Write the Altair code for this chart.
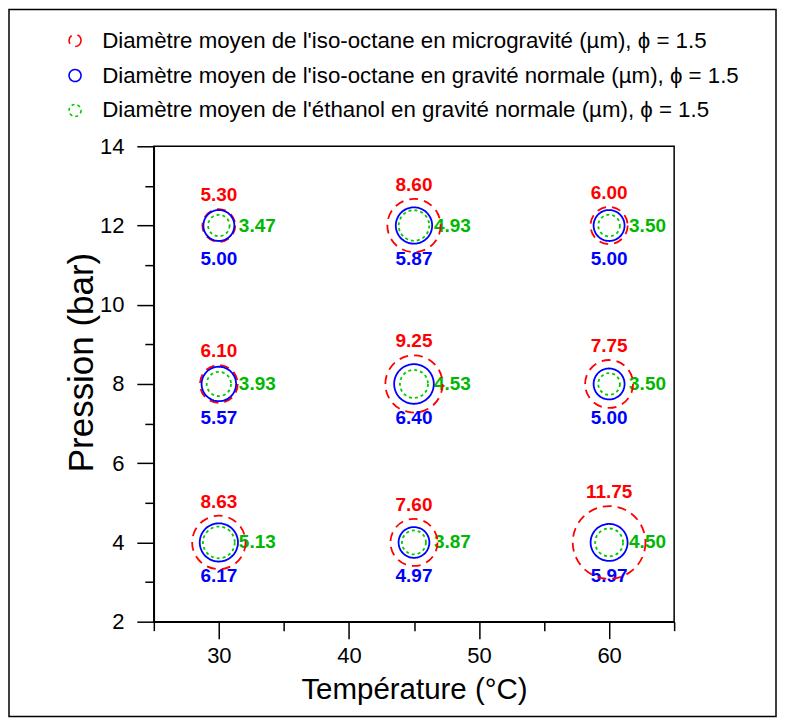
import altair as alt
import pandas as pd

# ---- data ----
temperatures = [30, 45, 60, 30, 45, 60, 30, 45, 60]
pressures = [12, 12, 12, 8, 8, 8, 4, 4, 4]
iso_micro = [5.30, 8.60, 6.00, 6.10, 9.25, 7.75, 8.63, 7.60, 11.75]
iso_normal = [5.00, 5.87, 5.00, 5.57, 6.40, 5.00, 6.17, 4.97, 5.97]
ethanol_normal = [3.47, 4.93, 3.50, 3.93, 4.53, 3.50, 5.13, 3.87, 4.50]

series_names = [
    "Diamètre moyen de l'iso-octane en microgravité (µm), ϕ = 1.5",
    "Diamètre moyen de l'iso-octane en gravité normale (µm), ϕ = 1.5",
    "Diamètre moyen de l'éthanol en gravité normale (µm), ϕ = 1.5",
]
x_ticks = [25, 30, 35, 40, 45, 50, 55, 60, 65]
y_ticks = [2, 3, 4, 5, 6, 7, 8, 9, 10, 11, 12, 13, 14]

# ---- styles ----
circle_colors = ["#ff0000", "#0000ff", "#00cc00"]
text_colors = ["#ff0000", "#0000ff", "#00b800"]
dashes = [[9, 6], [1, 0], [3, 3]]
FONT = "Liberation Sans"

rows = []
for name, vals in zip(series_names, [iso_micro, iso_normal, ethanol_normal]):
    for t, p, v in zip(temperatures, pressures, vals):
        rows.append({"T": t, "P": p, "series": name, "value": v})
df = pd.DataFrame(rows)

W, H = 521, 476

x_axis = alt.Axis(
    values=x_ticks,
    labelExpr="datum.value % 10 === 0 ? datum.label : ''",
    tickSize={"condition": {"test": "datum.value % 10 === 0", "value": 17}, "value": 9},
    labelPadding=7, titlePadding=9, grid=False, titleFontSize=29.5,
)
y_axis = alt.Axis(
    values=y_ticks,
    labelExpr="datum.value % 2 === 0 ? datum.label : ''",
    tickSize={"condition": {"test": "datum.value % 2 === 0", "value": 17}, "value": 9},
    labelPadding=13, titlePadding=0, grid=False, titleFontSize=35, titleY=216,
)
x_scale = alt.Scale(domain=[25, 65], nice=False, zero=False)
y_scale = alt.Scale(domain=[2, 14], nice=False, zero=False)

X = alt.X("T:Q", scale=x_scale, axis=x_axis, title="Température (°C)")
Y = alt.Y("P:Q", scale=y_scale, axis=y_axis, title="Pression (bar)")

legend = alt.Legend(
    orient="none", legendX=-90, legendY=-117, title=None,
    labelFontSize=22.3, labelFont=FONT, labelColor="black", labelLimit=1000,
    symbolSize=144, symbolStrokeWidth=1.6, labelOffset=16, rowPadding=12,
    padding=0, symbolType="circle",
)

base = alt.Chart(df)

points = base.mark_point(shape="circle", filled=False, opacity=1, strokeWidth=1.8).encode(
    x=X,
    y=Y,
    size=alt.Size("value:Q", scale=alt.Scale(type="pow", exponent=2, domain=[0, 12], range=[0, (6.2 * 12) ** 2]), legend=None),
    color=alt.Color("series:N", scale=alt.Scale(domain=series_names, range=circle_colors), legend=legend),
    strokeDash=alt.StrokeDash("series:N", scale=alt.Scale(domain=series_names, range=dashes), legend=legend),
)

label_fmt = dict(fontSize=19, fontWeight="bold", font=FONT, baseline="middle")

red_text = base.transform_filter(
    alt.datum.series == series_names[0]
).transform_calculate(
    ly="datum.P + (3.1 * datum.value + 14) / (%f / 12)" % H
).mark_text(**label_fmt).encode(
    x=X,
    y=alt.Y("ly:Q", scale=y_scale, axis=y_axis, title="Pression (bar)"),
    text=alt.Text("value:Q", format=".2f"),
    color=alt.value(text_colors[0]),
)
blue_text = base.transform_filter(
    alt.datum.series == series_names[1]
).mark_text(dy=34, **label_fmt).encode(
    x=X, y=Y,
    text=alt.Text("value:Q", format=".2f"),
    color=alt.value(text_colors[1]),
)
green_text = base.transform_filter(
    alt.datum.series == series_names[2]
).mark_text(dx=20, align="left", **label_fmt).encode(
    x=X, y=Y,
    text=alt.Text("value:Q", format=".2f"),
    color=alt.value(text_colors[2]),
)

frame = alt.Chart(pd.DataFrame({"f": [0]})).mark_rect(
    fillOpacity=0, stroke="black", strokeWidth=1.5
).encode(
    x=alt.value(-145), x2=alt.value(623), y=alt.value(-137), y2=alt.value(571)
)

chart = alt.layer(red_text, blue_text, green_text, points, frame).properties(
    width=W, height=H,
    autosize=alt.AutoSizeParams(type="none"),
    padding={"left": 146, "top": 138, "right": 105, "bottom": 98},
).configure(
    font=FONT,
).configure_view(
    stroke="black", strokeWidth=1.5
).configure_axis(
    labelFontSize=22, titleFontWeight="normal",
    labelColor="black", titleColor="black",
    tickColor="black", tickWidth=1.5, domainColor="black", domainWidth=1.5,
    labelFont=FONT, titleFont=FONT,
)

chart.save("out.html", embed_options={"renderer": "svg", "actions": False})
